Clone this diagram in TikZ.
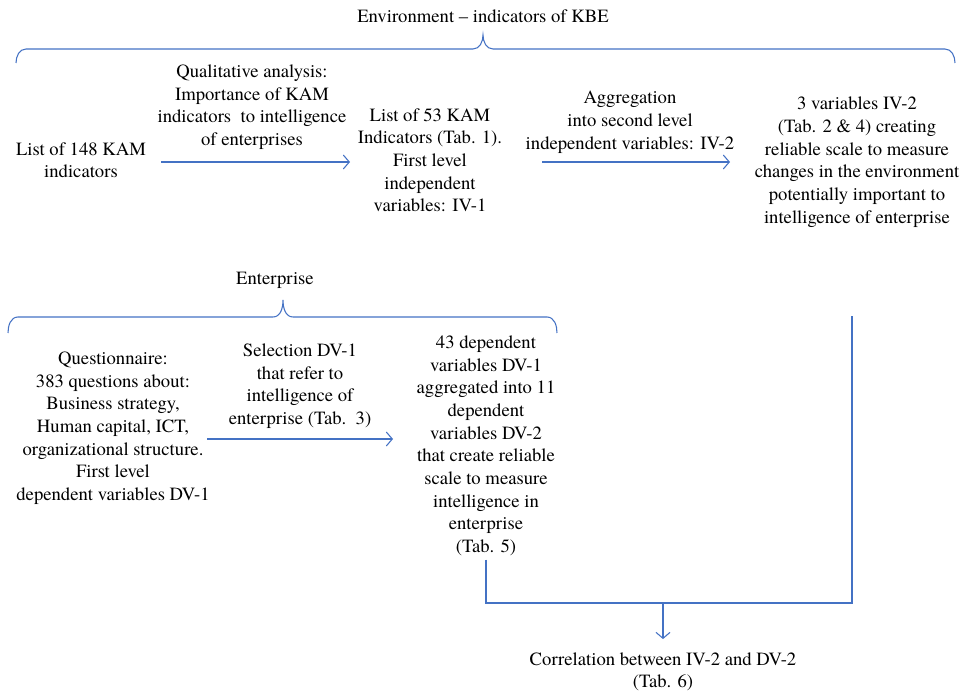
\documentclass[tikz,border=0pt]{standalone}
\usepackage{fontspec}
\newfontfamily\termes{TeX Gyre Termes}[Ligatures=TeX]
\usetikzlibrary{arrows.meta}
\definecolor{lineblue}{RGB}{68,114,196}
\newcommand{\mlines}[1]{{\termes\fontsize{14}{17}\selectfont\begin{tabular}{@{}c@{}}#1\end{tabular}}}
\tikzset{
  txt/.style={inner sep=0pt},
  conn/.style={draw=lineblue, line width=0.8pt},
  arr/.style={conn, -{Straight Barb[length=4.5pt,width=10.5pt,line width=0.8pt]}},
  bracepath/.style={draw=lineblue, line width=0.8pt}
}
\begin{document}
\begin{tikzpicture}[x=0.75pt,y=-0.75pt]
\useasboundingbox (0,0) rectangle (964,691);

% top brace
\node[txt] (title) at (483,18) {\mlines{Environment -- indicators of KBE}};
\draw[bracepath] (16,63) to[out=90,in=180] (26,49) -- (473,49)
  to[out=0,in=-90] (483,35) to[out=-90,in=180] (493,49) -- (945,49)
  to[out=0,in=90] (955,63);

% row 1
\node[txt] (n148) at (81,162) {\mlines{List of 148 KAM\\indicators}};
\node[txt] (qa) at (252,107) {\mlines{Qualitative analysis:\\Importance of KAM\\indicators\ \ to intelligence\\of enterprises}};
\node[txt] (n53) at (430,162) {\mlines{List of 53 KAM\\Indicators (Tab. 1).\\First level\\independent\\variables: IV-1}};
\node[txt] (agg) at (630,122) {\mlines{Aggregation\\into second level\\independent variables: IV-2}};
\node[txt] (n3v) at (857,162) {\mlines{3 variables IV-2\\(Tab. 2 \& 4) creating\\reliable scale to measure\\changes in the environment\\potentially important to\\intelligence of enterprise}};

\coordinate (a1s) at (161,162);
\coordinate (a1e) at (350,162);
\coordinate (a2s) at (542,162);
\coordinate (a2e) at (730,162);
\draw[arr] (a1s) -- (a1e);
\draw[arr] (a2s) -- (a2e);

% bottom brace
\node[txt] (ent) at (275,280) {\mlines{Enterprise}};
\draw[bracepath] (8,333) to[out=90,in=180] (18,317) -- (273,317)
  to[out=0,in=-90] (283,300) to[out=-90,in=180] (293,317) -- (547,317)
  to[out=0,in=90] (557,333);

% row 2
\node[txt] (qn) at (113,428) {\mlines{Questionnaire:\\383 questions about:\\Business strategy,\\Human capital, ICT,\\organizational structure.\\First level\\dependent variables DV-1}};
\node[txt] (sel) at (300,386) {\mlines{Selection DV-1\\that refer to\\intelligence of\\enterprise (Tab.\ \ 3)}};
\node[txt] (dv) at (486,446) {\mlines{43 dependent\\variables DV-1\\aggregated into 11\\dependent\\variables DV-2\\that create reliable\\scale to measure\\intelligence in\\enterprise\\(Tab. 5)}};

\coordinate (a3s) at (207,439);
\coordinate (a3e) at (393,439);
\draw[arr] (a3s) -- (a3e);

% join
\coordinate (join) at (663,603);
\coordinate (rtop) at (852,316);
\draw[conn] (dv.south) |- (join) -| (rtop);

\node[txt] (corr) at (663,672) {\mlines{Correlation between IV-2 and DV-2\\(Tab. 6)}};
\draw[arr, shorten >=7.5pt] (join) -- (corr.north);
\end{tikzpicture}
\end{document}
